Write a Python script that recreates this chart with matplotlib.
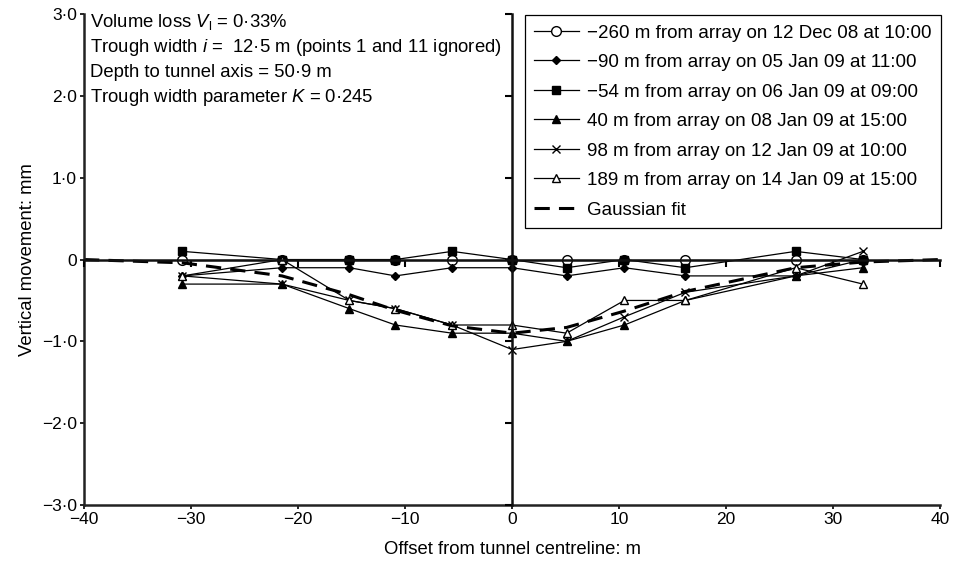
import matplotlib
matplotlib.use("Agg")
import matplotlib.pyplot as plt

plt.rcParams['font.family'] = ['Liberation Sans', 'DejaVu Sans']
plt.rcParams['mathtext.fontset'] = 'custom'
plt.rcParams['mathtext.rm'] = 'Liberation Sans'
plt.rcParams['mathtext.it'] = 'Liberation Sans:italic'

# offsets of the survey points from the tunnel centreline (m)
offsets = [-30.8, -21.5, -15.2, -10.9, -5.6, 0.0, 5.1, 10.5, 16.2, 26.5, 32.8]

# vertical movement (mm) for each survey
s_m260 = [0.0, 0.0, 0.0, 0.0, 0.0, 0.0, 0.0, 0.0, 0.0, 0.0, 0.0]
s_m90 = [-0.2, -0.1, -0.1, -0.2, -0.1, -0.1, -0.2, -0.1, -0.2, -0.2, 0.0]
s_m54 = [0.1, 0.0, 0.0, 0.0, 0.1, 0.0, -0.1, 0.0, -0.1, 0.1, 0.0]
s_40 = [-0.3, -0.3, -0.6, -0.8, -0.9, -0.9, -1.0, -0.8, -0.5, -0.2, -0.1]
s_98 = [-0.2, -0.3, -0.5, -0.6, -0.8, -1.1, -1.0, -0.7, -0.4, -0.2, 0.1]
s_189 = [-0.2, 0.0, -0.5, -0.6, -0.8, -0.8, -0.9, -0.5, -0.5, -0.1, -0.3]

# gaussian fit
fit_x = [-40, -30.8, -21.5, -15.2, -10.9, -5.6, 0.0, 5.1, 10.5, 16.2, 26.5, 32.8, 40]
fit_y = [0.0, -0.04, -0.2, -0.43, -0.62, -0.81, -0.9, -0.83, -0.63, -0.39, -0.1, -0.03, 0.0]

labels = [
    "\u2212260 m from array on 12 Dec 08 at 10:00",
    "\u221290 m from array on 05 Jan 09 at 11:00",
    "\u221254 m from array on 06 Jan 09 at 09:00",
    "40 m from array on 08 Jan 09 at 15:00",
    "98 m from array on 12 Jan 09 at 10:00",
    "189 m from array on 14 Jan 09 at 15:00",
]

x_ticks = [-40, -30, -20, -10, 0, 10, 20, 30, 40]
y_ticks = [-3.0, -2.0, -1.0, 0.0, 1.0, 2.0, 3.0]

notes = [
    "Volume loss $V_\\mathrm{l}$ = 0\u00b733%",
    "Trough width $i$ =  12\u00b75 m (points 1 and 11 ignored)",
    "Depth to tunnel axis = 50\u00b79 m",
    "Trough width parameter $K$ = 0\u00b7245",
]


def x_label_text(v):
    return ("\u2212" if v < 0 else "") + str(abs(v))


def y_label_text(v):
    if v == 0:
        return "0"
    return ("\u2212" if v < 0 else "") + f"{abs(v):.1f}".replace(".", "\u00b7")


fig = plt.figure(figsize=(9.56, 5.63), dpi=100)
rect = [0.0879, 0.103, 0.8954, 0.872]
ax = fig.add_axes(rect)

fs = 13.3
lw = 0.9
ax.plot(offsets, s_m260, color='black', lw=lw, marker='o', ms=7, mfc='white', mec='black', mew=1.0, label=labels[0])
ax.plot(offsets, s_m90, color='black', lw=lw, marker='D', ms=4, label=labels[1])
ax.plot(offsets, s_m54, color='black', lw=lw, marker='s', ms=6, label=labels[2])
ax.plot(offsets, s_40, color='black', lw=lw, marker='^', ms=6, label=labels[3])
ax.plot(offsets, s_98, color='black', lw=lw, marker='x', ms=6, mew=1.0, label=labels[4])
ax.plot(offsets, s_189, color='black', lw=lw, marker='^', ms=6, mfc='white', mew=1.0, label=labels[5])
ax.plot(fit_x, fit_y, color='black', lw=2.2, ls=(0, (5, 3)), label="Gaussian fit")

ax.set_xlim(-40, 40)
ax.set_ylim(-3, 3)
ax.set_xticks(x_ticks)
ax.set_yticks(y_ticks)
ax.set_xticklabels([x_label_text(v) for v in x_ticks])
ax.set_yticklabels([y_label_text(v) for v in y_ticks])
ax.tick_params(direction='out', length=3, width=1.2, labelsize=12.5, pad=2)
for side in ['top', 'right']:
    ax.spines[side].set_visible(False)
for side in ['left', 'bottom']:
    ax.spines[side].set_linewidth(1.8)
    ax.spines[side].set_color('#222222')

ax.set_xlabel("Offset from tunnel centreline: m", fontsize=fs, labelpad=10)
ax.set_ylabel("Vertical movement: mm", fontsize=fs, labelpad=4)

for k, line in enumerate(notes):
    ax.text(0.007, 0.984 - k * 0.0515, line, transform=ax.transAxes, fontsize=fs, va='center', ha='left')

leg = ax.legend(loc='upper right', bbox_to_anchor=(1.001, 0.998), borderaxespad=0,
                fontsize=13.5, frameon=True, fancybox=False, edgecolor='black',
                framealpha=1, handlelength=2.4, handletextpad=0.43,
                labelspacing=0.66, borderpad=0.5)
leg.get_frame().set_linewidth(0.9)

# axes through the origin, drawn on an overlay
ax0 = fig.add_axes(rect, sharex=ax, sharey=ax)
ax0.patch.set_visible(False)
for side in ['top', 'right']:
    ax0.spines[side].set_visible(False)
ax0.spines['left'].set_position(('data', 0))
ax0.spines['bottom'].set_position(('data', 0))
for side in ['left', 'bottom']:
    ax0.spines[side].set_linewidth(1.8)
    ax0.spines[side].set_color('#111111')
ax0.tick_params(direction='out', length=5, width=1.5, labelbottom=False, labelleft=False)

fig.savefig("out.png", dpi=100)
